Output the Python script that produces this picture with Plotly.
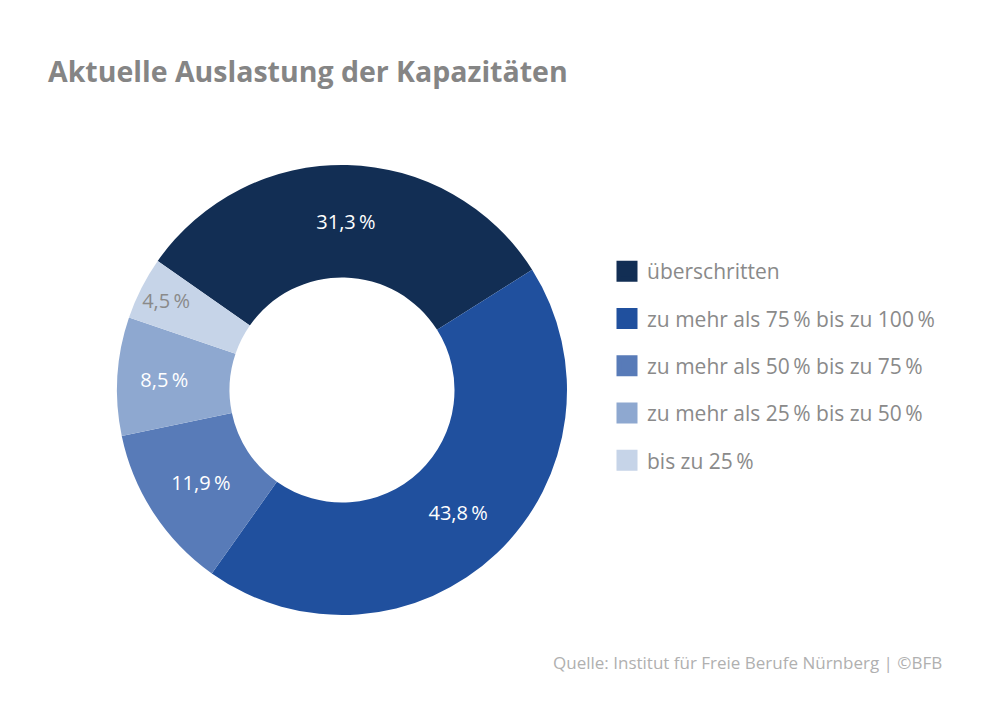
import plotly.graph_objects as go

# Auslastung der Kapazitäten (Anteile in %)
kategorien = [
    "überschritten",
    "zu mehr als 75\u2009% bis zu 100\u2009%",
    "zu mehr als 50\u2009% bis zu 75\u2009%",
    "zu mehr als 25\u2009% bis zu 50\u2009%",
    "bis zu 25\u2009%",
]
anteile = [31.3, 43.8, 11.9, 8.5, 4.5]
farben = ["#122e54", "#20509e", "#587bb8", "#8ea8d0", "#c6d4e8"]
textfarben = ["#ffffff", "#ffffff", "#ffffff", "#ffffff", "#8a8a8a"]

font_family = "Open Sans, Noto Sans, sans-serif"
grau = "#8a8a8a"

fig = go.Figure()

fig.add_trace(go.Pie(
    labels=kategorien,
    values=anteile,
    sort=False,
    direction="clockwise",
    rotation=-55,
    hole=0.5,
    marker=dict(colors=farben, line=dict(width=0)),
    textinfo="text",
    texttemplate="%{value:.1f}\u2009%",
    textposition="inside",
    insidetextorientation="horizontal",
    textfont=dict(family=font_family, size=20, color=textfarben),
    domain=dict(x=[109 / 992, 559 / 992], y=[102 / 709, 552 / 709]),
    showlegend=False,
))

# Legendeneinträge mit größeren Quadraten
for name, farbe in zip(kategorien, farben):
    fig.add_trace(go.Scatter(
        x=[None], y=[None],
        mode="markers",
        name=name,
        legendgroup=name,
        marker=dict(symbol="square", size=16, color=farbe,
                    line=dict(width=5, color=farbe)),
        hoverinfo="skip",
    ))

fig.update_layout(
    width=992,
    height=709,
    margin=dict(l=0, r=0, t=0, b=0),
    paper_bgcolor="white",
    plot_bgcolor="white",
    separators=",.",
    font=dict(family=font_family, color=grau),
    title=dict(
        text="<b>Aktuelle Auslastung der Kapazitäten</b>",
        x=40 / 992, xanchor="left", xref="paper",
        y=1 - 64 / 709, yanchor="middle",
        font=dict(family=font_family, size=28.5, color="#858585"),
    ),
    xaxis=dict(visible=False),
    yaxis=dict(visible=False),
    legend=dict(
        x=599 / 992, xanchor="left",
        y=1 - 243 / 709, yanchor="top",
        traceorder="grouped",
        tracegroupgap=17,
        font=dict(family=font_family, size=21, color=grau),
        bgcolor="rgba(0,0,0,0)",
        borderwidth=0,
    ),
    annotations=[dict(
        text="Quelle: Institut für Freie Berufe Nürnberg | ©BFB",
        x=936 / 992, xanchor="right", xref="paper",
        y=55 / 709, yanchor="middle", yref="paper",
        showarrow=False,
        font=dict(family=font_family, size=17, color="#b0b0b0"),
    )],
)

fig.write_html("out.html")
